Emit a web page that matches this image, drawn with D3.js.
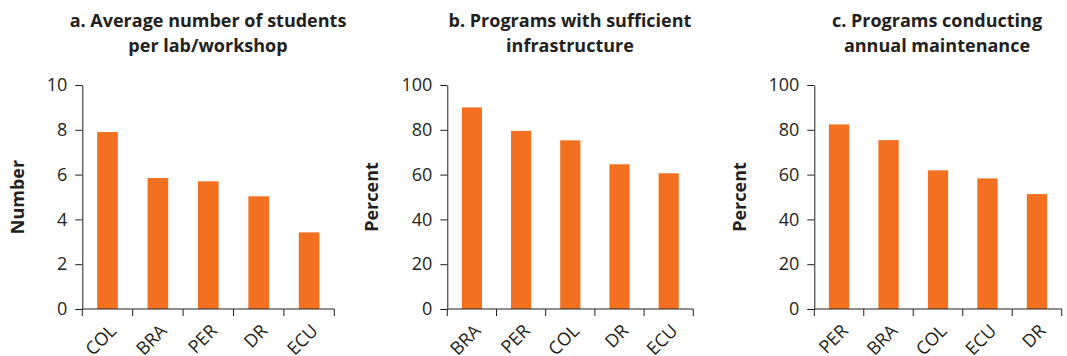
<!DOCTYPE html>
<html>
<head>
<meta charset="utf-8">
<script src="https://cdn.jsdelivr.net/npm/d3@7"></script>
<style>
  html, body { margin: 0; padding: 0; background: #fff; }
  svg { display: block; }
</style>
</head>
<body>
<svg id="chart" width="1067" height="356"></svg>
<script>
// ---- Data ----
const categoriesA = ["COL", "BRA", "PER", "DR", "ECU"];
const valuesA = [7.9, 5.85, 5.7, 5.03, 3.42];
const ticksA = [0, 2, 4, 6, 8, 10];

const categoriesB = ["BRA", "PER", "COL", "DR", "ECU"];
const valuesB = [90.0, 79.5, 75.3, 64.6, 60.6];
const ticksB = [0, 20, 40, 60, 80, 100];

const categoriesC = ["PER", "BRA", "COL", "ECU", "DR"];
const valuesC = [82.4, 75.4, 61.9, 58.3, 51.3];
const ticksC = [0, 20, 40, 60, 80, 100];

const titlesA = ["a. Average number of students", "per lab/workshop"];
const titlesB = ["b. Programs with sufficient", "infrastructure"];
const titlesC = ["c. Programs conducting", "annual maintenance"];

const panels = [
  { cats: categoriesA, vals: valuesA, ticks: ticksA, max: 10, title: titlesA, ylabel: "Number",
    x0: 82.3, x1: 334.3, titleX: 208, ylabelX: 24 },
  { cats: categoriesB, vals: valuesB, ticks: ticksB, max: 100, title: titlesB, ylabel: "Percent",
    x0: 447.3, x1: 693.3, titleX: 570, ylabelX: 378 },
  { cats: categoriesC, vals: valuesC, ticks: ticksC, max: 100, title: titlesC, ylabel: "Percent",
    x0: 814.3, x1: 1061.7, titleX: 937, ylabelX: 746 }
];

const TEXT = "#231f20";
const BAR = "#f37021";
const FONT = "'Open Sans', 'Noto Sans', sans-serif";
const yTop = 85, yBottom = 309;

const svg = d3.select("#chart");

panels.forEach(p => {
  const g = svg.append("g");
  const x = d3.scaleBand().domain(p.cats).range([p.x0, p.x1])
    .paddingInner(0.59).paddingOuter(0.295);
  const y = d3.scaleLinear().domain([0, p.max]).range([yBottom, yTop]);

  // bars
  g.selectAll("rect.bar").data(p.cats).join("rect")
    .attr("class", "bar")
    .attr("x", d => x(d))
    .attr("width", x.bandwidth())
    .attr("y", (d, i) => y(p.vals[i]))
    .attr("height", (d, i) => y(0) - y(p.vals[i]))
    .attr("fill", BAR);

  // y axis
  const ya = g.append("g").attr("transform", `translate(${p.x0},0)`)
    .call(d3.axisLeft(y).tickValues(p.ticks).tickSize(7).tickSizeOuter(0).tickPadding(8));
  ya.select(".domain").attr("stroke", TEXT);
  ya.selectAll(".tick line").attr("stroke", TEXT);
  ya.selectAll(".tick text").attr("fill", TEXT).style("font-family", FONT).style("font-size", "18px");

  // x axis line + boundary ticks
  g.append("line").attr("x1", p.x0).attr("x2", p.x1).attr("y1", yBottom).attr("y2", yBottom)
    .attr("stroke", TEXT);
  const bounds = d3.range(p.cats.length + 1).map(i => p.x0 + i * x.step());
  g.selectAll("line.xt").data(bounds).join("line")
    .attr("class", "xt")
    .attr("x1", d => d).attr("x2", d => d)
    .attr("y1", yBottom).attr("y2", yBottom + 7)
    .attr("stroke", TEXT);

  // x labels
  g.selectAll("text.xl").data(p.cats).join("text")
    .attr("class", "xl")
    .attr("transform", d => `translate(${x(d) + x.bandwidth() / 2 + 10},${yBottom + 23}) rotate(-45)`)
    .attr("text-anchor", "end")
    .attr("fill", TEXT)
    .style("font-family", FONT).style("font-size", "18px")
    .text(d => d);

  // title
  g.selectAll("text.title").data(p.title).join("text")
    .attr("class", "title")
    .attr("x", p.titleX)
    .attr("y", (d, i) => 26.7 + i * 25.3)
    .attr("text-anchor", "middle")
    .attr("fill", TEXT)
    .style("font-family", FONT).style("font-size", "18px").style("font-weight", "bold")
    .text(d => d);

  // y label
  g.append("text")
    .attr("transform", `translate(${p.ylabelX},197) rotate(-90)`)
    .attr("text-anchor", "middle")
    .attr("fill", TEXT)
    .style("font-family", FONT).style("font-size", "18px").style("font-weight", "bold")
    .text(p.ylabel);
});
</script>
</body>
</html>
